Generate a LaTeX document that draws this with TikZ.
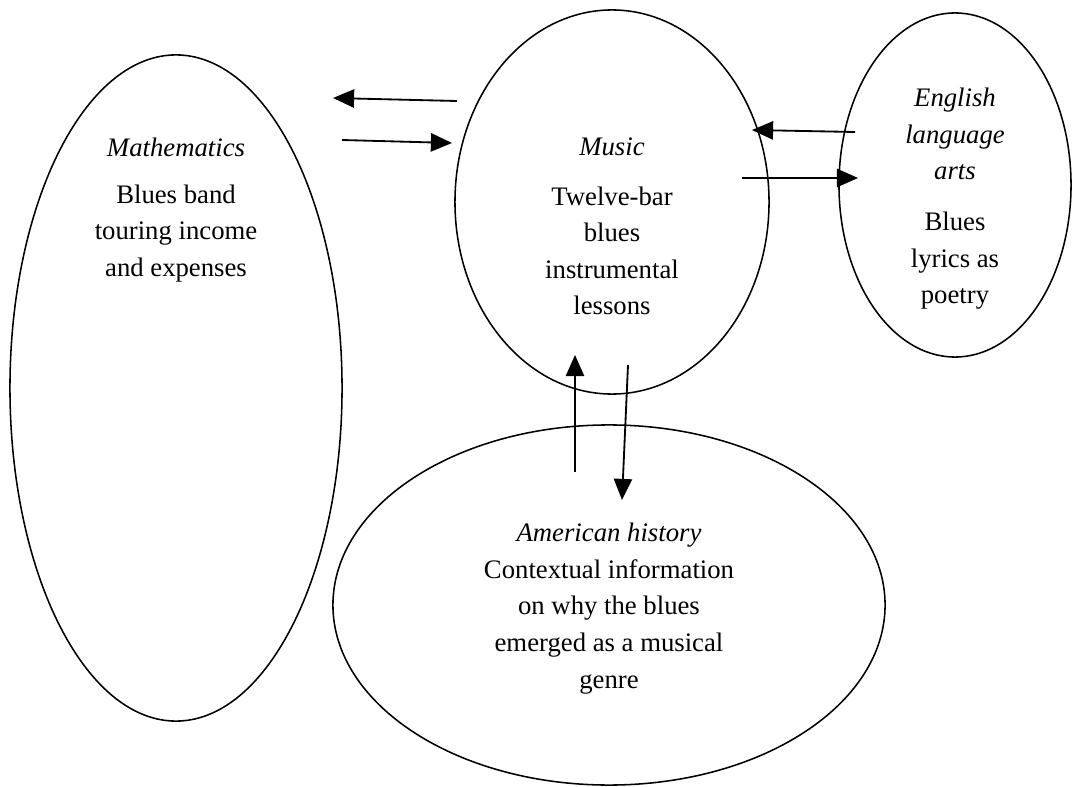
\documentclass[tikz,border=0pt]{standalone}
\usepackage{fontspec}
\setmainfont{Liberation Serif}
\usetikzlibrary{arrows.meta,shapes.geometric}
\definecolor{inkblack}{HTML}{000000}

\tikzset{
  subject/.style={draw=inkblack, ellipse, inner sep=0pt, line width=1.1pt},
  topic/.style={align=center, inner sep=0pt, anchor=north, font=\fontsize{19}{26}\selectfont},
  link/.style={draw=inkblack, -{Triangle[length=15pt,width=13pt]}, line width=1.3pt},
}

\begin{document}
\begin{tikzpicture}[x=0.025cm, y=-0.025cm]
  \useasboundingbox (0,0) rectangle (1072,787);

  % subject ellipses
  \node[subject, minimum width=8.3cm, minimum height=16.65cm] (math) at (176,388) {};
  \node[subject, minimum width=7.85cm, minimum height=9.6cm] (music) at (612,202) {};
  \node[subject, minimum width=5.8cm, minimum height=8.6cm] (english) at (955,185) {};
  \node[subject, minimum width=13.8cm, minimum height=9cm] (history) at (609,605) {};

  % texts
  \node[topic] (mathtxt) at (176,138) {\textit{Mathematics}\\[7pt]Blues band\\touring income\\and expenses};
  \node[topic] (musictxt) at (612,138) {\textit{Music}\\[9pt]Twelve-bar\\blues\\instrumental\\lessons};
  \node[topic] (englishtxt) at (955,88) {\textit{English}\\\textit{language}\\\textit{arts}\\[10pt]Blues\\lyrics as\\poetry};
  \node[topic] (historytxt) at (609,523) {\textit{American history}\\Contextual information\\on why the blues\\emerged as a musical\\genre};

  % arrow ends
  \coordinate (mathA) at (333,98);
  \coordinate (mathB) at (342,140);
  \coordinate (musicA) at (457,101);
  \coordinate (musicB) at (452,143);
  \coordinate (musicC) at (752,130);
  \coordinate (musicD) at (742,178);
  \coordinate (englishA) at (855,132);
  \coordinate (englishB) at (858,178);
  \coordinate (musicE) at (575,355);
  \coordinate (musicF) at (628,365);
  \coordinate (historyA) at (575,472);
  \coordinate (historyB) at (622,500);

  % links
  \draw[link] (musicA) -- (mathA);
  \draw[link] (mathB) -- (musicB);
  \draw[link] (englishA) -- (musicC);
  \draw[link] (musicD) -- (englishB);
  \draw[link] (historyA) -- (musicE);
  \draw[link] (musicF) -- (historyB);
\end{tikzpicture}
\end{document}
